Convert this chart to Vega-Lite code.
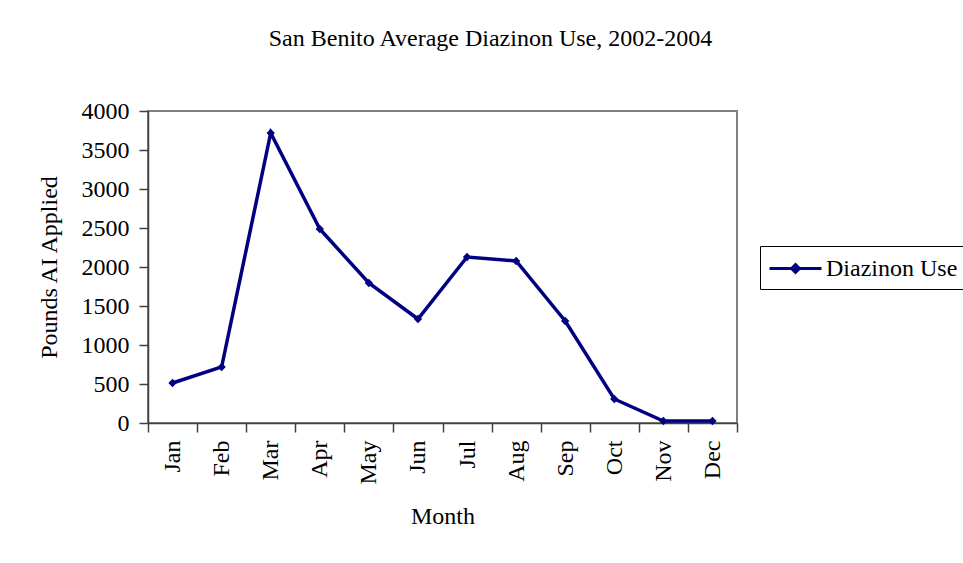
{
  "$schema": "https://vega.github.io/schema/vega-lite/v6.json",
  "autosize": {"type": "none"},
  "width": 589,
  "height": 312,
  "padding": {"left": 148, "top": 111, "right": 226, "bottom": 140},
  "background": "white",
  "title": {
    "text": "San Benito Average Diazinon Use, 2002-2004",
    "font": "Liberation Serif",
    "fontSize": 24,
    "fontWeight": "normal",
    "color": "black",
    "anchor": "middle",
    "dx": 48,
    "offset": 48
  },
  "data": {
    "values": [
      {"month": "Jan", "value": 513, "series": "Diazinon Use"},
      {"month": "Feb", "value": 718, "series": "Diazinon Use"},
      {"month": "Mar", "value": 3718, "series": "Diazinon Use"},
      {"month": "Apr", "value": 2487, "series": "Diazinon Use"},
      {"month": "May", "value": 1795, "series": "Diazinon Use"},
      {"month": "Jun", "value": 1333, "series": "Diazinon Use"},
      {"month": "Jul", "value": 2128, "series": "Diazinon Use"},
      {"month": "Aug", "value": 2077, "series": "Diazinon Use"},
      {"month": "Sep", "value": 1308, "series": "Diazinon Use"},
      {"month": "Oct", "value": 308, "series": "Diazinon Use"},
      {"month": "Nov", "value": 25, "series": "Diazinon Use"},
      {"month": "Dec", "value": 25, "series": "Diazinon Use"}
    ]
  },
  "mark": {
    "type": "line",
    "strokeWidth": 3.5,
    "point": {"shape": "diamond", "size": 70, "filled": true, "color": "#000080"}
  },
  "encoding": {
    "x": {
      "field": "month",
      "type": "ordinal",
      "sort": ["Jan","Feb","Mar","Apr","May","Jun","Jul","Aug","Sep","Oct","Nov","Dec"],
      "bandPosition": 0.5,
      "scale": {"type": "band", "paddingInner": 0, "paddingOuter": 0},
      "axis": {
        "title": "Month",
        "labelAngle": -90,
        "labelAlign": "right",
        "labelBaseline": "middle",
        "labelPadding": 8,
        "tickBand": "extent",
        "tickSize": 9,
        "tickColor": "#404040",
        "tickWidth": 1.5,
        "domainColor": "#404040",
        "domainWidth": 1.5,
        "titlePadding": 21
      }
    },
    "y": {
      "field": "value",
      "type": "quantitative",
      "scale": {"domain": [0, 4000], "nice": false},
      "axis": {
        "title": "Pounds AI Applied",
        "values": [0, 500, 1000, 1500, 2000, 2500, 3000, 3500, 4000],
        "format": "d",
        "grid": false,
        "tickSize": 9,
        "tickColor": "#404040",
        "tickWidth": 1.5,
        "domainColor": "#404040",
        "domainWidth": 1.5,
        "labelPadding": 10,
        "titlePadding": 20
      }
    },
    "color": {
      "field": "series",
      "type": "nominal",
      "scale": {"domain": ["Diazinon Use"], "range": ["#000080"]},
      "legend": {
        "title": null,
        "orient": "none",
        "legendX": 612,
        "legendY": 135,
        "strokeColor": "black",
        "padding": 8,
        "symbolType": "M-1,0H3M0.7,0L1,-0.3L1.3,0L1,0.3Z",
        "symbolSize": 676,
        "symbolStrokeWidth": 3,
        "symbolStrokeColor": "#000080",
        "symbolFillColor": "#000080",
        "labelOffset": 29,
        "labelFontSize": 24,
        "labelFont": "Liberation Serif",
        "labelColor": "black"
      }
    }
  },
  "config": {
    "view": {"stroke": "#808080", "strokeWidth": 2},
    "axis": {
      "labelFont": "Liberation Serif",
      "titleFont": "Liberation Serif",
      "labelFontSize": 24,
      "titleFontSize": 24,
      "titleFontWeight": "normal",
      "labelColor": "black",
      "titleColor": "black"
    }
  }
}
